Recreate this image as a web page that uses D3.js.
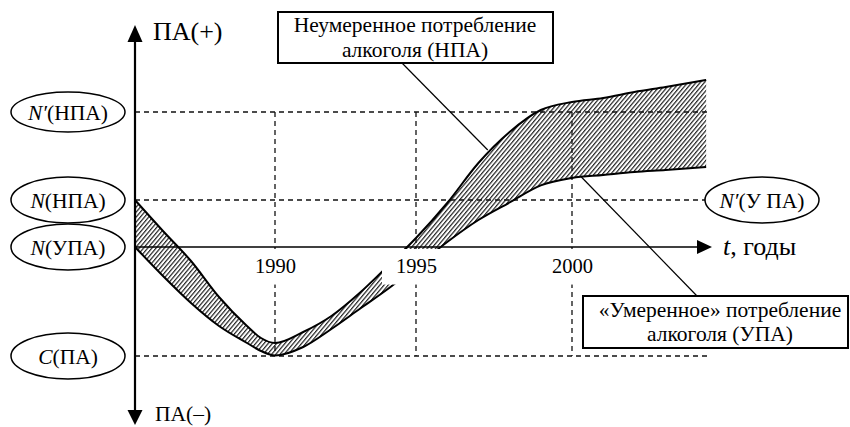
<!DOCTYPE html>
<html>

<head>
    <meta charset="utf-8">
    <title>Потребление алкоголя</title>
    <script src="https://d3js.org/d3.v7.min.js"></script>
    <style>
        body {
            margin: 0;
            background: #fff;
        }

        .grid {
            stroke: #111;
            stroke-width: 1.3;
            stroke-dasharray: 5 4;
            fill: none;
        }

        .curve {
            fill: none;
            stroke: #000;
            stroke-width: 2;
        }

        .label-box {
            fill: #fff;
            stroke: #000;
            stroke-width: 2;
        }
    </style>
</head>

<body>
    <script>
        // years along the t axis and the two curves (ПА level, 0 = N(УПА))
        var years = [1985, 1986, 1987, 1988, 1989, 1989.5, 1990, 1991, 1992, 1993, 1994,
            1995, 1996, 1997, 1998, 1999, 2000, 2001, 2002, 2003, 2004.3];
        var npaValues = [47, 16, -14, -50, -79, -91, -96, -85, -69, -46, -19,
            9, 44, 84, 115, 137, 145, 149, 155, 160, 167];
        var upaValues = [0, -29, -56, -79, -96, -104, -108.5, -100, -82, -62, -42,
            -20, 5, 27, 44.5, 61.6, 69, 72, 75, 77, 80];

        var tickYears = [1990, 1995, 2000];

        // reference levels on the left
        var levelValues = [135, 47, 0, -109];
        var levelLetters = ['N′', 'N', 'N', 'C'];
        var levelTexts = ['(НПА)', '(НПА)', '(УПА)', '(ПА)'];
        var rightLevel = 47;

        // callout anchors [year, value]
        var npaAnchor = [1997.3, 97];
        var upaAnchor = [2000.3, 70];

        var width = 850;
        var height = 427;

        var x = d3.scaleLinear()
            .domain([1985, 1990, 1995, 2000])
            .range([135, 275, 416, 572]);

        var y = d3.scaleLinear()
            .domain([-178, 222])
            .range([425, 25]);

        var x0 = x(1985);
        var y0 = y(0);

        var svg = d3.select('body')
            .append('svg')
            .attr('width', width)
            .attr('height', height)
            .attr('font-family', 'Liberation Serif');

        function label(parent, x, y, size) {
            return parent.append('text')
                .attr('x', x).attr('y', y)
                .attr('font-size', size)
                .style('font-family', '"Liberation Serif", "Times New Roman", serif');
        }

        var defs = svg.append('defs');
        defs.append('pattern')
            .attr('id', 'hatch')
            .attr('patternUnits', 'userSpaceOnUse')
            .attr('width', 3.2)
            .attr('height', 10)
            .attr('patternTransform', 'rotate(40)')
            .append('line')
            .attr('x1', 0.6).attr('y1', 0)
            .attr('x2', 0.6).attr('y2', 10)
            .attr('stroke', '#222')
            .attr('stroke-width', 1.2);

        var data = years.map(function(d, i) {
            return { year: d, npa: npaValues[i], upa: upaValues[i] };
        });

        // band
        var area = d3.area()
            .x(function(d) { return x(d.year); })
            .y0(function(d) { return y(d.upa); })
            .y1(function(d) { return y(d.npa); })
            .curve(d3.curveMonotoneX);

        svg.append('path')
            .datum(data)
            .attr('d', area)
            .attr('fill', 'url(#hatch)');

        // dashed guides
        var xRight = 708;
        svg.append('line').attr('class', 'grid')
            .attr('x1', x0).attr('x2', xRight)
            .attr('y1', y(levelValues[0])).attr('y2', y(levelValues[0]));
        svg.append('line').attr('class', 'grid')
            .attr('x1', x0).attr('x2', 706)
            .attr('y1', y(levelValues[1])).attr('y2', y(levelValues[1]));
        svg.append('line').attr('class', 'grid')
            .attr('x1', x0).attr('x2', xRight)
            .attr('y1', y(levelValues[3])).attr('y2', y(levelValues[3]));

        svg.selectAll('.vgrid')
            .data(tickYears)
            .enter()
            .append('line')
            .attr('class', 'grid vgrid')
            .attr('x1', function(d) { return x(d); })
            .attr('x2', function(d) { return x(d); })
            .attr('y1', y(levelValues[0]))
            .attr('y2', y(levelValues[3]));

        // curves
        var lineNpa = d3.line()
            .x(function(d) { return x(d.year); })
            .y(function(d) { return y(d.npa); })
            .curve(d3.curveMonotoneX);
        var lineUpa = d3.line()
            .x(function(d) { return x(d.year); })
            .y(function(d) { return y(d.upa); })
            .curve(d3.curveMonotoneX);

        svg.append('path').datum(data).attr('class', 'curve').attr('d', lineNpa);
        svg.append('path').datum(data).attr('class', 'curve').attr('d', lineUpa);

        // t axis with year labels
        var xAxis = d3.axisBottom(x)
            .tickValues(tickYears)
            .tickFormat(d3.format('d'))
            .tickSize(0)
            .tickPadding(11);

        var gx = svg.append('g')
            .attr('transform', 'translate(0,' + y0 + ')')
            .call(xAxis)
            .attr('font-family', 'Liberation Serif')
            .attr('font-size', 20.5);
        gx.select('.domain').remove();
        gx.selectAll('text')
            .style('font-family', '"Liberation Serif", "Times New Roman", serif');
        gx.selectAll('.tick').each(function() {
            var t = d3.select(this).select('text');
            var b = t.node().getBBox();
            d3.select(this).insert('rect', 'text')
                .attr('x', b.x - 14)
                .attr('y', 2)
                .attr('width', b.width + 19)
                .attr('height', b.y + b.height + 8 - 2)
                .attr('fill', '#fff');
        });

        svg.append('line')
            .attr('x1', x0).attr('x2', 698)
            .attr('y1', y0).attr('y2', y0)
            .attr('stroke', '#000').attr('stroke-width', 1.6);
        svg.append('path')
            .attr('d', 'M712,' + y0 + 'L697,' + (y0 - 7) + 'L697,' + (y0 + 7) + 'Z')
            .attr('fill', '#000');
        var tl = label(svg, 723, y0 + 8, 26);
        tl.append('tspan').attr('font-style', 'italic').text('t');
        tl.append('tspan').text(', годы');

        // ПА axis
        svg.append('line')
            .attr('x1', x0).attr('x2', x0)
            .attr('y1', 40).attr('y2', 412)
            .attr('stroke', '#000').attr('stroke-width', 2.2);
        svg.append('path')
            .attr('d', 'M' + x0 + ',25L' + (x0 - 7.5) + ',42L' + (x0 + 7.5) + ',42Z')
            .attr('fill', '#000');
        svg.append('path')
            .attr('d', 'M' + x0 + ',425L' + (x0 - 7.5) + ',410L' + (x0 + 7.5) + ',410Z')
            .attr('fill', '#000');
        label(svg, 153, 40, 26).text('ПА(+)');
        label(svg, 155, 421, 21.5).text('ПА(–)');

        // level ellipses
        var levels = svg.selectAll('.level')
            .data(levelValues)
            .enter()
            .append('g')
            .attr('class', 'level')
            .attr('transform', function(d) {
                return 'translate(68,' + y(d) + ')';
            });

        levels.append('ellipse')
            .attr('rx', 57)
            .attr('ry', function(d, i) { return i === 0 ? 20 : 23; })
            .attr('fill', '#fff')
            .attr('stroke', '#000')
            .attr('stroke-width', 1.5);

        levels.each(function(d, i) {
            var t = label(d3.select(this), 0, 7.5, 21.5).attr('text-anchor', 'middle');
            t.append('tspan').attr('font-style', 'italic').text(levelLetters[i]);
            t.append('tspan').text(levelTexts[i]);
        });

        var right = svg.append('g')
            .attr('transform', 'translate(762,' + y(rightLevel) + ')');
        right.append('ellipse')
            .attr('rx', 57).attr('ry', 23)
            .attr('fill', '#fff')
            .attr('stroke', '#000')
            .attr('stroke-width', 1.5);
        var rt = label(right, 0, 7.5, 21.5).attr('text-anchor', 'middle');
        rt.append('tspan').attr('font-style', 'italic').text('N′');
        rt.append('tspan').text('(У ПА)');

        // callouts
        svg.append('line')
            .attr('x1', 402).attr('y1', 63)
            .attr('x2', x(npaAnchor[0])).attr('y2', y(npaAnchor[1]))
            .attr('stroke', '#000').attr('stroke-width', 1.2);
        svg.append('line')
            .attr('x1', 697).attr('y1', 296)
            .attr('x2', x(upaAnchor[0])).attr('y2', y(upaAnchor[1]))
            .attr('stroke', '#000').attr('stroke-width', 1.2);

        svg.append('rect').attr('class', 'label-box')
            .attr('x', 278).attr('y', 12).attr('width', 275).attr('height', 51);
        label(svg, 415, 32, 21.5).attr('text-anchor', 'middle').text('Неумеренное потребление');
        label(svg, 415, 57, 21.5).attr('text-anchor', 'middle').text('алкоголя (НПА)');

        svg.append('rect').attr('class', 'label-box')
            .attr('x', 583).attr('y', 296).attr('width', 265).attr('height', 52);
        label(svg, 720, 317, 21.5).attr('text-anchor', 'middle').text('«Умеренное» потребление');
        label(svg, 720, 341, 21.5).attr('text-anchor', 'middle').text('алкоголя (УПА)');
    </script>
</body>

</html>
